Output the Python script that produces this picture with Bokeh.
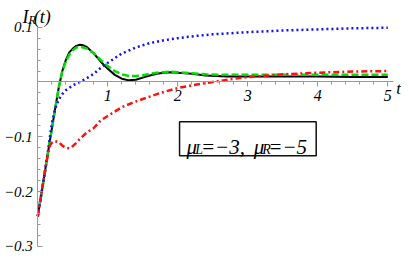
from bokeh.plotting import figure
from bokeh.models import FixedTicker, Range1d, Label, BoxAnnotation
from bokeh.embed import file_html
from bokeh.resources import INLINE

# ---- data ----
t_black = [0, 0.05, 0.1, 0.15, 0.2, 0.25, 0.3, 0.35, 0.4, 0.45, 0.5, 0.55, 0.6, 0.65, 0.7, 0.75,
           0.8, 0.9, 1.0, 1.1, 1.2, 1.3, 1.4, 1.5, 1.6, 1.7, 1.8, 1.9, 2.0, 2.2, 2.4, 2.7, 3.0,
           3.5, 4.0, 4.5, 5.0]
i_black = [-0.245, -0.205, -0.165, -0.125, -0.086, -0.047, -0.010, 0.020, 0.040, 0.054, 0.061,
           0.066, 0.068, 0.067, 0.064, 0.058, 0.052, 0.037, 0.024, 0.013, 0.006, 0.003, 0.004,
           0.008, 0.012, 0.015, 0.017, 0.018, 0.017, 0.015, 0.012, 0.010, 0.010, 0.010, 0.010,
           0.009, 0.009]

t_green = [0, 0.05, 0.1, 0.15, 0.2, 0.25, 0.3, 0.35, 0.4, 0.45, 0.5, 0.55, 0.6, 0.65, 0.7, 0.75,
           0.8, 0.9, 1.0, 1.1, 1.2, 1.3, 1.4, 1.5, 1.6, 1.7, 1.8, 1.9, 2.0, 2.2, 2.4, 2.7, 3.0,
           3.5, 4.0, 4.5, 5.0]
i_green = [-0.245, -0.205, -0.165, -0.125, -0.086, -0.047, -0.010, 0.019, 0.037, 0.050, 0.058,
           0.063, 0.064, 0.063, 0.061, 0.057, 0.052, 0.040, 0.029, 0.020, 0.014, 0.011, 0.011,
           0.012, 0.015, 0.017, 0.018, 0.019, 0.018, 0.016, 0.014, 0.013, 0.013, 0.013, 0.013,
           0.013, 0.013]

t_blue = [0, 0.05, 0.1, 0.15, 0.2, 0.25, 0.3, 0.35, 0.4, 0.5, 0.6, 0.7, 0.8, 0.9, 1.0, 1.2,
          1.4, 1.6, 1.8, 2.0, 2.25, 2.5, 3.0, 3.5, 4.0, 4.5, 5.0]
i_blue = [-0.245, -0.205, -0.165, -0.122, -0.076, -0.048, -0.032, -0.022, -0.015, -0.006, 0.000,
          0.007, 0.015, 0.026, 0.035, 0.052, 0.063, 0.071, 0.076, 0.080, 0.084, 0.087, 0.091,
          0.094, 0.096, 0.098, 0.099]

t_red = [0, 0.05, 0.1, 0.15, 0.18, 0.21, 0.25, 0.3, 0.35, 0.4, 0.45, 0.5, 0.55, 0.6, 0.7, 0.8,
         0.9, 1.0, 1.1, 1.2, 1.35, 1.5, 1.75, 2.0, 2.25, 2.5, 2.75, 3.0, 3.5, 4.0, 4.5, 5.0]
i_red = [-0.245, -0.205, -0.165, -0.128, -0.114, -0.110, -0.108, -0.110, -0.116, -0.120, -0.121,
         -0.117, -0.111, -0.104, -0.092, -0.084, -0.070, -0.062, -0.054, -0.046, -0.038, -0.031,
         -0.020, -0.011, -0.005, 0.000, 0.005, 0.009, 0.014, 0.017, 0.019, 0.020]

x_ticks = [1, 2, 3, 4, 5]
x_tick_labels = ["1", "2", "3", "4", "5"]
y_ticks = [-0.3, -0.2, -0.1, 0.1]
y_tick_labels = ["\u22120.3", "\u22120.2", "\u22120.1", "0.1"]

# ---- figure ----
W, H = 401, 253
p = figure(width=W, height=H, output_backend="svg", toolbar_location=None,
           x_range=Range1d(-0.53286, 5.19571), y_range=Range1d(-0.31296, 0.14872),
           min_border=0, min_border_left=0, min_border_right=0, min_border_top=0,
           min_border_bottom=0, outline_line_color=None)
p.grid.visible = False
p.background_fill_color = "white"
p.border_fill_color = "white"

FONT = "Liberation Serif"
AX = "#999999"

xminor = [round(0.2 * i, 2) for i in range(1, 26) if i % 5]
yminor = [round(-0.3 + 0.02 * i, 2) for i in range(0, 21) if i % 5]

xa = p.xaxis[0]
xa.fixed_location = 0
xa.bounds = (0, 5.08)
xa.ticker = FixedTicker(ticks=x_ticks, minor_ticks=xminor)
xa.major_label_overrides = {k: v for k, v in zip(x_ticks, x_tick_labels)}
xa.axis_line_color = AX
xa.major_tick_line_color = AX
xa.minor_tick_line_color = AX
xa.major_tick_out = 5
xa.major_tick_in = 0
xa.minor_tick_out = 3
xa.minor_tick_in = 0
xa.major_label_standoff = 3
xa.major_label_text_font = FONT
xa.major_label_text_font_style = "italic"
xa.major_label_text_font_size = "16px"
xa.major_label_text_color = "black"

ya = p.yaxis[0]
ya.fixed_location = 0
ya.bounds = (-0.3, 0.102)
ya.ticker = FixedTicker(ticks=y_ticks, minor_ticks=yminor)
ya.major_label_overrides = {k: v for k, v in zip(y_ticks, y_tick_labels)}
ya.axis_line_color = AX
ya.major_tick_line_color = AX
ya.minor_tick_line_color = AX
ya.major_tick_in = 5
ya.major_tick_out = 0
ya.minor_tick_in = 3
ya.minor_tick_out = 0
ya.major_label_standoff = 5
ya.major_label_text_font = FONT
ya.major_label_text_font_style = "italic"
ya.major_label_text_font_size = "15px"
ya.major_label_text_color = "black"

# ---- curves ----
p.line(t_black, i_black, line_color="black", line_width=2)
p.line(t_green, i_green, line_color="#00dd00", line_width=2.5, line_dash="7 3")
p.line(t_blue, i_blue, line_color="#1010ff", line_width=2.5, line_dash="2 3")
p.line(t_red, i_red, line_color="#ff1010", line_width=2.5, line_dash="6 3 2 3")

# ---- annotation box ----
p.add_layout(BoxAnnotation(left=2.025, right=3.977, top=-0.0725, bottom=-0.1345,
                           fill_color="white", fill_alpha=1.0,
                           line_color="#111111", line_alpha=1.0, line_width=1.5,
                           level="overlay"))


def lab(x, y, text, size, **kw):
    p.add_layout(Label(x=x, y=y, text=text, text_font=FONT, text_font_style="italic",
                       text_font_size=size, text_color="black", text_baseline="alphabetic",
                       level="overlay", **kw))


yb = -0.1178
lab(2.124, yb, "\u03bc", "21px")
lab(2.250, yb - 0.0055, "L", "14px")
lab(2.330, yb, "=\u22123,", "21px")
lab(3.086, yb, "\u03bc", "21px")
lab(3.205, yb - 0.0055, "R", "14px")
lab(3.292, yb, "=\u22125", "21px")

# y-axis title I_R(t)
lab(-0.2186, 0.1187, "I", "18px")
lab(-0.134, 0.1123, "R", "12px")
lab(-0.0580, 0.1187, "(t)", "18px")

# x-axis title t
lab(5.12, -0.0125, "t", "17px")

open("out.html", "w").write(file_html(p, INLINE))
